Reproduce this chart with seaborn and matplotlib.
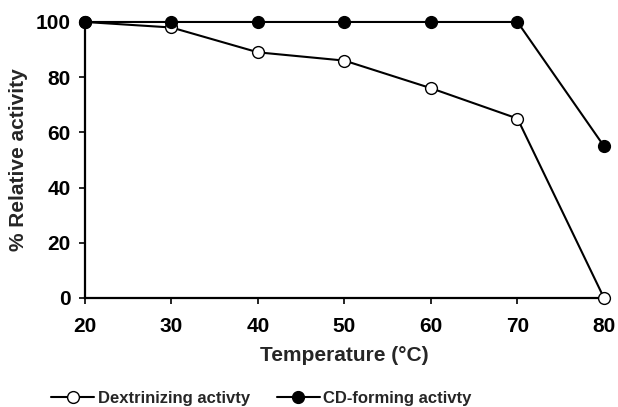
import seaborn as sns
import matplotlib.pyplot as plt
import pandas as pd

# Data
temperature = [20, 30, 40, 50, 60, 70, 80]
dextrinizing = [100, 98, 89, 86, 76, 65, 0]
cd_forming = [100, 100, 100, 100, 100, 100, 55]

df = pd.DataFrame({
    "Temperature": temperature * 2,
    "Activity": dextrinizing + cd_forming,
    "Series": ["Dextrinizing activty"] * 7 + ["CD-forming activty"] * 7,
})

sns.set_style("ticks")
plt.rcParams["font.family"] = ["Liberation Sans", "DejaVu Sans"]
plt.rcParams["font.weight"] = "bold"

fig = plt.figure(figsize=(6.18, 4.07), dpi=100)
ax = fig.add_axes([0.1375, 0.268, 0.8398, 0.678])

face = {"Dextrinizing activty": "white", "CD-forming activty": "black"}
for name, sub in df.groupby("Series", sort=False):
    sns.lineplot(data=sub, x="Temperature", y="Activity", ax=ax,
                 color="black", linewidth=1.5, marker="o", markersize=8.5,
                 markeredgecolor="black", markerfacecolor=face[name],
                 markeredgewidth=1.0, label=name, clip_on=False, zorder=3)

ax.set_xlim(20, 80)
ax.set_ylim(0, 100)
ax.set_xticks(temperature)
ax.set_yticks([0, 20, 40, 60, 80, 100])
for spine in ["top", "right"]:
    ax.spines[spine].set_visible(False)
for spine in ["left", "bottom"]:
    ax.spines[spine].set_linewidth(1.6)
    ax.spines[spine].set_color("black")
ax.tick_params(axis="both", direction="out", length=4.5, width=1.2,
               labelsize=15, colors="black")
ax.tick_params(axis="x", pad=9)
ax.tick_params(axis="y", pad=6)
for lbl in ax.get_xticklabels() + ax.get_yticklabels():
    lbl.set_fontweight("bold")

ax.set_xlabel("Temperature (\u00b0C)", fontsize=15, fontweight="bold")
ax.set_ylabel("% Relative activity", fontsize=15, fontweight="bold")
ax.xaxis.set_label_coords(0.5, -0.207)
ax.xaxis.label.set_va("center")
ax.yaxis.set_label_coords(-0.129, 0.5)
ax.yaxis.label.set_va("center")

handles, labels = ax.get_legend_handles_labels()
ax.legend_.remove()
fig.legend(handles, labels, loc="center", bbox_to_anchor=(0.423, 0.022),
           ncol=2, frameon=False, prop={"weight": "bold", "size": 12},
           handlelength=2.6, columnspacing=1.6, handletextpad=0.2,
           borderpad=0)

fig.savefig("out.png", dpi=100)
